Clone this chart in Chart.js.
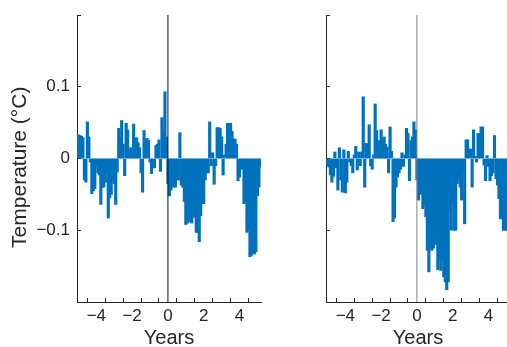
<!DOCTYPE html>
<html><head><meta charset="utf-8">
<script src="https://cdn.jsdelivr.net/npm/chart.js@4"></script>
<style>
html,body{margin:0;padding:0;background:#fff;overflow:hidden;width:507px;height:347px;}
#w1{position:absolute;left:0;top:0;width:270px;height:347px;}
#w2{position:absolute;left:270px;top:0;width:250px;height:347px;}
</style></head><body>
<div id="w1"><canvas id="c1"></canvas></div>
<div id="w2"><canvas id="c2"></canvas></div>
<script>
// monthly values, first month = -60 (i.e. -5 years), one value per month
const firstMonth = -60;
const leftTemp = [
 0.033,0.032,0.031,0.029,-0.03,-0.033,0.051,0.03,-0.005,-0.049,
 -0.045,-0.042,-0.01,-0.02,-0.023,-0.064,-0.04,-0.04,-0.033,-0.02,
 -0.083,-0.055,-0.05,-0.03,-0.035,-0.064,-0.019,0.042,0.03,0.053,
 0.02,-0.024,0.049,0.04,0.008,0.015,0.01,0.048,0.015,0.029,
 0.022,0.015,-0.02,-0.047,0.039,0.026,0.028,0.025,-0.005,-0.021,
 -0.013,-0.013,0.018,0.02,0.026,-0.018,0.057,0.04,0.093,0.03,
 -0.035,-0.052,-0.044,-0.037,-0.04,-0.04,-0.017,-0.03,0.036,-0.037,
 -0.04,-0.06,-0.092,-0.09,-0.085,-0.088,-0.09,-0.082,-0.078,-0.103,
 -0.103,-0.116,-0.08,-0.063,-0.063,-0.03,-0.02,-0.02,0.051,-0.01,
 0.008,-0.036,-0.01,0.043,0.043,0.042,0.03,-0.023,0.005,0.02,
 0.049,0.049,0.049,0.038,0.027,0.027,0.02,-0.031,-0.026,-0.01,
 -0.015,-0.063,-0.06,-0.103,-0.1,-0.137,-0.135,-0.107,-0.133,-0.13,
 -0.052,-0.04,-0.012
];
const rightTemp = [
 -0.01,-0.012,-0.023,-0.033,-0.025,0.009,-0.013,-0.044,0.015,-0.03,
 -0.047,0.012,-0.048,-0.033,0.01,-0.005,-0.01,-0.02,0.005,0.017,
 -0.016,0.009,-0.01,0.009,0.086,-0.04,0.021,0.02,0.047,-0.01,
 -0.015,0.005,0.076,0.039,0.019,0.025,0.04,0.025,0.03,0.02,
 0.016,-0.02,0.044,0.01,-0.088,-0.083,-0.04,-0.026,-0.02,-0.015,
 0.008,-0.011,0.005,0.042,0.035,-0.031,0.025,0.03,0.051,0.04,
 -0.03,-0.058,-0.044,-0.05,-0.07,-0.065,-0.081,-0.128,-0.158,-0.125,
 -0.128,-0.125,-0.11,-0.12,-0.155,-0.14,-0.156,-0.141,-0.165,-0.172,
 -0.183,-0.172,-0.072,-0.1,-0.06,-0.1,-0.1,-0.035,-0.026,-0.04,
 -0.058,-0.019,-0.091,0.026,0.026,0.013,0.013,-0.04,0.04,0.003,
 -0.005,0.035,0.035,0.044,0.044,-0.009,-0.031,0.004,-0.011,-0.031,
 -0.024,-0.02,0.032,-0.028,-0.037,-0.056,-0.084,-0.084,-0.1,-0.1,
 -0.1,-0.08,-0.05
];
const xTicks = [-4,-3,-2,-1,0,1,2,3,4];
const xTickLabels = {'-4':'\u22124','-2':'\u22122','0':'0','2':'2','4':'4'};
const yTicks = [-0.2,-0.1,0,0.1,0.2];
const yTickLabels = {'-0.1':'\u22120.1','0':'0','0.1':'0.1'};
const xTitle = 'Years';
const yTitle = 'Temperature (°C)';

const AX = '#262626';
const BAR = '#0072BD';
Chart.defaults.font.family = "'Liberation Sans', Arial, Helvetica, sans-serif";

function toPoints(vals){
  return vals.map((v,i)=>({x:(firstMonth+i)/12, y:v}));
}

function makeChart(id, vals, showYLabels, yWidth, padRight, zeroColor){
  return new Chart(document.getElementById(id), {
    type:'bar',
    data:{datasets:[
      {type:'line', data:[{x:0,y:-0.2},{x:0,y:0.2}], borderColor:zeroColor, borderWidth:1,
       pointRadius:0, order:0},
      {type:'bar', data:toPoints(vals), backgroundColor:BAR, borderWidth:0,
       barThickness:2.5, order:1}
    ]},
    options:{
      responsive:true, maintainAspectRatio:false, animation:false,
      layout:{padding:{top:15,right:padRight,left:0,bottom:0}},
      plugins:{legend:{display:false}, tooltip:{enabled:false}},
      scales:{
        x:{type:'linear', min:-5.08, max:5.2, offset:false,
          afterBuildTicks:s=>{s.ticks = xTicks.map(v=>({value:v}));},
          afterFit:s=>{s.height = 45; s.paddingLeft = 0; s.paddingRight = 0;},
          ticks:{autoSkip:false, maxRotation:0, minRotation:0, padding:8, color:AX,
            font:{size:17}, callback:v=> (xTickLabels[String(v)] ?? '')},
          grid:{drawOnChartArea:false, drawTicks:true, tickLength:-4, tickColor:AX, tickWidth:1},
          border:{display:true, color:AX, width:1},
          title:{display:true, text:xTitle, color:AX, font:{size:20}, padding:{top:0,bottom:-3}}
        },
        y:{type:'linear', min:-0.2, max:0.2,
          afterBuildTicks:s=>{s.ticks = yTicks.map(v=>({value:v}));},
          afterFit:s=>{s.width = yWidth; s.paddingTop = 0; s.paddingBottom = 0;},
          ticks:{padding:11, color:AX, font:{size:17},
            callback:v=> showYLabels ? (yTickLabels[String(Math.round(v*10)/10)] ?? '') : ''},
          grid:{drawOnChartArea:false, drawTicks:true, tickLength:-4, tickColor:AX, tickWidth:1},
          border:{display:true, color:AX, width:1},
          title:{display:showYLabels, text:yTitle + '\u00a0\u00a0\u00a0', color:AX, font:{size:21}, padding:{top:8,bottom:0}}
        }
      }
    }
  });
}
makeChart('c1', leftTemp, true, 77, 9, '#111111');
makeChart('c2', rightTemp, false, 56, 10, '#7f7f7f');
</script>
</body></html>
